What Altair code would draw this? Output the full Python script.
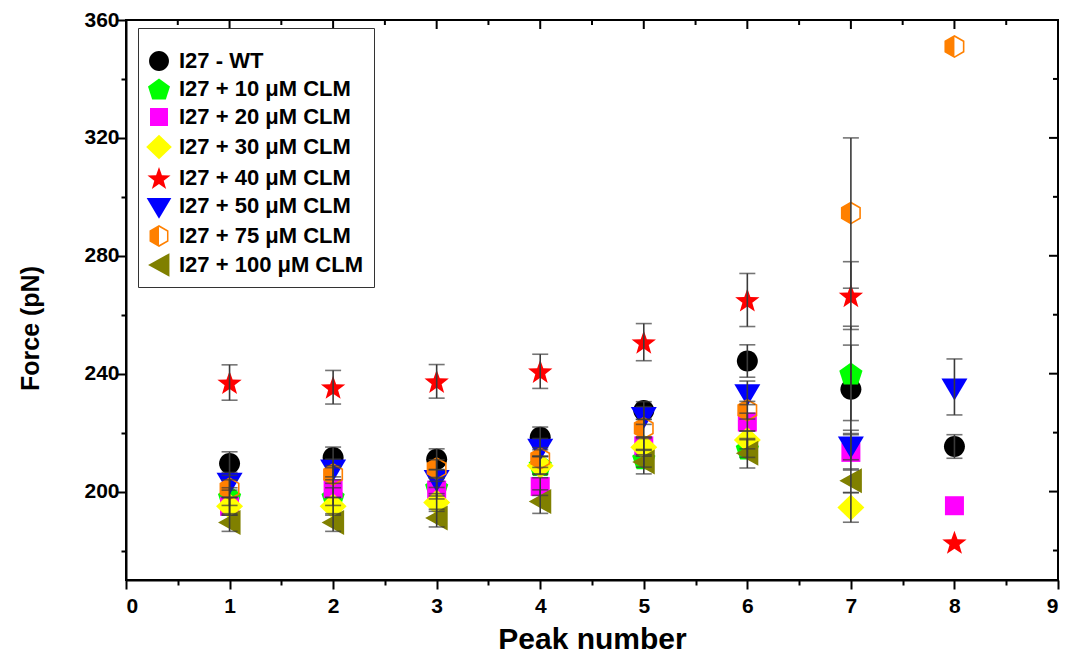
import altair as alt
import pandas as pd
import numpy as np

# ---------------- data ----------------
peaks = [1, 2, 3, 4, 5, 6, 7, 8]

series = [
    "I27 - WT",
    "I27 + 10 μM CLM",
    "I27 + 20 μM CLM",
    "I27 + 30 μM CLM",
    "I27 + 40 μM CLM",
    "I27 + 50 μM CLM",
    "I27 + 75 μM CLM",
    "I27 + 100 μM CLM",
]

wt = [209.5, 211.6, 211.0, 218.4, 227.5, 244.3, 234.7, 215.3]
wt_err = [4.0, 3.5, 3.5, 3.5, 3.0, 5.5, 15.0, 4.0]

c10 = [198.3, 198.3, 201.5, 209.0, 211.3, 214.6, 240.1, None]
c10_err = [3.0, 3.0, 3.0, 3.0, 3.0, 3.0, 16.0, None]

c20 = [195.0, 201.0, 200.5, 201.7, 215.5, 223.6, 213.3, 195.2]
c20_err = [3.0, 3.0, 3.0, 3.0, 3.0, 3.0, 6.0, None]

c30 = [195.0, 195.0, 196.3, 208.8, 215.0, 217.5, 194.6, None]
c30_err = [3.0, 3.0, 3.0, 3.0, 3.0, 3.0, 5.0, None]

c40 = [237.0, 235.4, 237.4, 240.8, 250.7, 265.0, 266.5, 182.8]
c40_err = [6.0, 5.7, 5.7, 5.8, 6.3, 9.0, 11.5, None]

c50 = [203.5, 208.0, 204.4, 215.0, 225.8, 233.5, 215.8, 235.5]
c50_err = [3.0, 3.0, 3.0, 3.0, 3.0, 4.0, 5.0, 9.5]

c75 = [201.0, 205.8, 207.8, 211.2, 221.5, 227.6, 294.5, 351.0]
c75_err = [3.0, 3.0, 3.0, 3.0, 3.0, 3.0, 25.5, None]

c100 = [189.5, 189.5, 191.0, 196.6, 210.0, 213.0, 203.7, None]
c100_err = [3.0, 3.0, 3.0, 4.0, 4.0, 5.0, 4.0, None]

values = [wt, c10, c20, c30, c40, c50, c75, c100]
errors = [wt_err, c10_err, c20_err, c30_err, c40_err, c50_err, c75_err, c100_err]

colors = ["#000000", "#00FF00", "#FF00FF", "#FFFF00", "#FF0000", "#0000FF", "#FF8000", "#808000"]

x_ticks = [i * 0.5 for i in range(19)]
y_ticks = [180, 200, 220, 240, 260, 280, 300, 320, 340, 360]

# ---------------- symbol shapes (unit box [-1, 1]) ----------------
def poly(pts):
    return "M" + "L".join(f"{x:.3f},{y:.3f}" for x, y in pts) + "Z"

ang5 = np.deg2rad(-90 + 72 * np.arange(5))
pent = [(1.22 * np.cos(a), 1.22 * np.sin(a) + 0.12) for a in ang5]

ang10 = np.deg2rad(-90 + 36 * np.arange(10))
rad10 = [1.28 if i % 2 == 0 else 0.52 for i in range(10)]
star = [(r * np.cos(a), r * np.sin(a) + 0.12) for r, a in zip(rad10, ang10)]

circle_path = "M-1.05,0A1.05,1.05,0,1,1,1.05,0A1.05,1.05,0,1,1,-1.05,0Z"
square_path = "M-0.95,-0.95L0.95,-0.95L0.95,0.95L-0.95,0.95Z"
diamond_path = "M0,-1.3L1.35,0L0,1.3L-1.35,0Z"
tri_down_path = "M-1.3,-0.85L1.3,-0.85L0,1.35Z"
tri_left_path = "M-1.15,0L1.1,-1.25L1.1,1.25Z"
hex_half_path = (
    "M0,-1.15L-1,-0.575L-1,0.575L0,1.15L1,0.575L1,-0.575Z"
    "M0,-0.96L0.84,-0.48L0.84,0.48L0,0.96Z"
)
shapes = [circle_path, poly(pent), square_path, diamond_path, poly(star),
          tri_down_path, hex_half_path, tri_left_path]

# ---------------- tables ----------------
rows = []
for order, (name, vals, errs) in enumerate(zip(series, values, errors)):
    for p, v, e in zip(peaks, vals, errs):
        if v is None:
            continue
        rows.append({"series": name, "order": order, "peak": p, "force": v,
                     "lo": v - e if e else None, "hi": v + e if e else None})
df = pd.DataFrame(rows)
err_df = df.dropna(subset=["lo"])

xt = pd.DataFrame({"v": x_ticks, "major": [v % 1 == 0 for v in x_ticks]})
yt = pd.DataFrame({"v": y_ticks, "major": [v % 40 == 0 for v in y_ticks]})

FONT = "Liberation Sans"

xscale = alt.Scale(domain=[0, 9], nice=False, zero=False)
yscale = alt.Scale(domain=[170, 360], nice=False, zero=False)

x_axis = alt.Axis(
    values=x_ticks, title="Peak number",
    labelExpr="datum.value % 1 == 0 ? format(datum.value, 'd') : ''",
    tickSize={"condition": {"test": "datum.value % 1 == 0", "value": 9}, "value": 5},
    tickWidth=2, tickColor="black", domainColor="black", domainWidth=2,
    labelFont=FONT, labelFontWeight="bold", labelFontSize=21, labelColor="black",
    labelPadding=6, titleFont=FONT, titleFontWeight="bold", titleFontSize=30,
    titleColor="black", titlePadding=8, grid=False,
)
y_axis = alt.Axis(
    values=y_ticks, title="Force (pN)",
    labelExpr="datum.value % 40 == 0 ? datum.label : ''",
    tickSize={"condition": {"test": "datum.value % 40 == 0", "value": 9}, "value": 5},
    tickWidth=2, tickColor="black", domainColor="black", domainWidth=2,
    labelFont=FONT, labelFontWeight="bold", labelFontSize=21, labelColor="black",
    labelPadding=-2, titleFont=FONT, titleFontWeight="bold", titleFontSize=25,
    titleColor="black", titleX=-96, titleY=308, titleAngle=270,
    titleAlign="center", titleBaseline="middle", grid=False,
)

legend = alt.Legend(
    title=" ", titleFontSize=8, titlePadding=4,
    orient="none", legendX=12, legendY=8,
    fillColor="white", strokeColor="#333333", padding=10,
    labelFont=FONT, labelFontWeight="bold", labelFontSize=22, labelColor="black",
    labelLimit=400, labelOffset=9, symbolSize=360, symbolStrokeWidth=0,
    rowPadding=6,
)

points = alt.Chart(df).mark_point(filled=True, size=400, opacity=1, strokeWidth=0).encode(
    x=alt.X("peak:Q", scale=xscale, axis=x_axis),
    y=alt.Y("force:Q", scale=yscale, axis=y_axis),
    color=alt.Color("series:N", scale=alt.Scale(domain=series, range=colors), legend=legend),
    shape=alt.Shape("series:N", scale=alt.Scale(domain=series, range=shapes), legend=legend),
    order=alt.Order("order:Q"),
)

bar_color = "#3a3a3a"
err_rule = alt.Chart(err_df).mark_rule(color=bar_color, strokeWidth=1.6).encode(
    x=alt.X("peak:Q", scale=xscale), y=alt.Y("lo:Q", scale=yscale), y2="hi:Q"
)
cap_lo = alt.Chart(err_df).mark_tick(color=bar_color, thickness=1.6, size=16,
                                     orient="horizontal").encode(
    x=alt.X("peak:Q", scale=xscale), y=alt.Y("lo:Q", scale=yscale)
)
cap_hi = alt.Chart(err_df).mark_tick(color=bar_color, thickness=1.6, size=16,
                                     orient="horizontal").encode(
    x=alt.X("peak:Q", scale=xscale), y=alt.Y("hi:Q", scale=yscale)
)

# inward ticks on top and right frame edges
top_major = alt.Chart(xt).transform_filter("datum.major").mark_rule(color="black", strokeWidth=2).encode(
    x=alt.X("v:Q", scale=xscale), y=alt.value(0), y2=alt.value(9))
top_minor = alt.Chart(xt).transform_filter("!datum.major").mark_rule(color="black", strokeWidth=2).encode(
    x=alt.X("v:Q", scale=xscale), y=alt.value(0), y2=alt.value(5))
right_major = alt.Chart(yt).transform_filter("datum.major").mark_rule(color="black", strokeWidth=2).encode(
    y=alt.Y("v:Q", scale=yscale), x=alt.value(932), x2=alt.value(923))
right_minor = alt.Chart(yt).transform_filter("!datum.major").mark_rule(color="black", strokeWidth=2).encode(
    y=alt.Y("v:Q", scale=yscale), x=alt.value(932), x2=alt.value(927))

chart = alt.layer(
    points, err_rule, cap_lo, cap_hi, top_major, top_minor, right_major, right_minor
).properties(
    width=932, height=560,
    autosize=alt.AutoSizeParams(type="none"),
    padding={"left": 126, "top": 20, "right": 12, "bottom": 81},
    background="white",
).configure_view(stroke="black", strokeWidth=2)

chart.save("out.html", embed_options={"renderer": "svg", "actions": False})
